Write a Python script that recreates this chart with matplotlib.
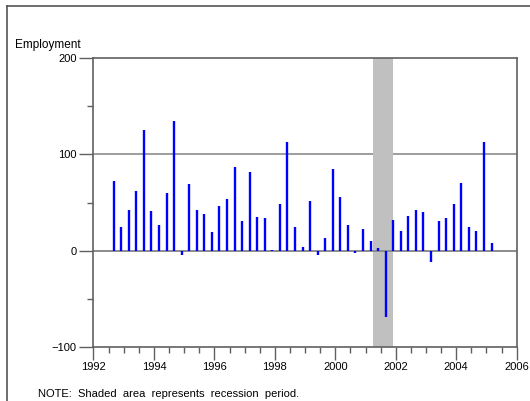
import numpy as np
import matplotlib
matplotlib.use("Agg")
import matplotlib.pyplot as plt
from matplotlib.lines import Line2D
from matplotlib.ticker import MultipleLocator

plt.rcParams['font.family'] = ['Liberation Sans', 'DejaVu Sans']

# Quarterly employment change, first quarter plotted at Sep 1992
start_year = 1992
start_month = 9
employment = [72.5, 24.3, 42.3, 61.7, 125.5, 41, 26.7, 59.7, 135.1, -4.5,
              69, 42.3, 37.8, 19.8, 46.1, 53.7, 87, 30.9, 82.1, 35,
              34, 1, 48.9, 113, 24.3, 4.2, 51.7, -4.8, 12.9, 85,
              55.8, 26.7, -2.7, 22.6, 10.1, 2.8, -69.2, 31.9, 20.8, 35.8,
              42, 39.9, -11.4, 31.2, 34, 48.5, 70.7, 24.6, 20.1, 113, 8.3]
recession = (2001.25, 2001.92)
x_ticks = [1992, 1994, 1996, 1998, 2000, 2002, 2004, 2006]
y_ticks = [-100, 0, 100, 200]

months = start_month - 1 + 3 * np.arange(len(employment))
x = start_year + months / 12.0

fig = plt.figure(figsize=(5.30, 4.01), dpi=100)
ax = fig.add_axes([0.1764, 0.1354, 0.7985, 0.7192])

ax.axhline(100, color='#8c8c8c', lw=1.2, zorder=0.5)
ax.axvspan(recession[0], recession[1], color='#c0c0c0', lw=0, zorder=1)
ax.axhline(0, color='#8c8c8c', lw=1.4, zorder=1.5)
ax.vlines(x, 0, employment, color='#0000ff', lw=1.7, zorder=2)

ax.set_xlim(1992, 2006)
ax.set_ylim(-100, 200)
ax.set_xticks(x_ticks)
ax.set_xticklabels([str(t) for t in x_ticks])
ax.set_yticks(y_ticks)
ax.set_yticklabels(['\u2212100', '0', '100', '200'])
ax.xaxis.set_minor_locator(MultipleLocator(0.5))
ax.yaxis.set_minor_locator(MultipleLocator(50))

for s in ax.spines.values():
    s.set_color('#606060')
    s.set_linewidth(1.2)

ax.tick_params(axis='both', which='major', length=9, width=1, color='#606060',
               labelsize=8, pad=2)
ax.tick_params(axis='both', which='minor', length=4.5, width=1, color='#606060')
ax.tick_params(axis='y', which='major', length=10)

fig.text(0.028, 0.889, 'Employment', fontsize=8.5, va='center', ha='left')
fig.text(0.072, 0.017, 'NOTE:  Shaded  area  represents  recession  period.',
         fontsize=8, va='center', ha='left')

# outer frame
fig.add_artist(Line2D([0.0132, 0.0132], [0, 0.985], color='#555555', lw=1.2))
fig.add_artist(Line2D([0.0132, 1.0], [0.985, 0.985], color='#555555', lw=1.2))

fig.savefig('out.png', dpi=100, facecolor='white')
